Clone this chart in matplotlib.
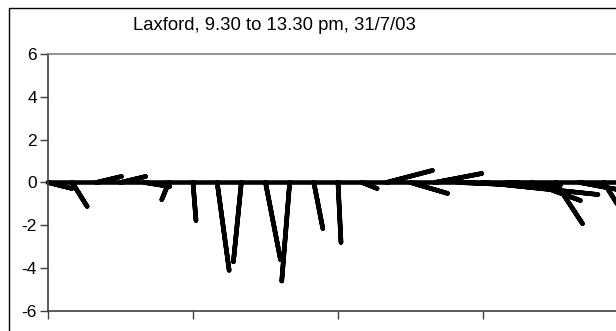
import matplotlib
matplotlib.use("Agg")
import matplotlib.pyplot as plt
from matplotlib.patches import Rectangle
import numpy as np

plt.rcParams['font.family'] = ['Liberation Sans', 'DejaVu Sans']

# readings every 10 minutes, 9.30 to 13.30
start_hour = 9.5
step_hour = 1 / 6
# east (u) and north (v) components
u = [1.12, 0.70, 1.17, 1.17, 1.17, -0.33, 0.14, 0.56, -0.37, 0.70,
     -0.37, 0.42, 0.14, 0.70, 2.15, 1.73, 2.20, 4.49, 5.37, 2.48,
     2.29, 1.26, 1.78, 0.84, 0.47]
v = [-0.28, -1.12, 0.28, 0.28, -0.19, -0.80, -1.78, -4.10, -3.70, -3.60,
     -4.60, -2.15, -2.80, -0.28, 0.56, -0.51, 0.42, -0.19, -0.56, -0.14,
     -0.84, -1.92, -0.33, -1.35, -0.30]
u_scale = 0.1476  # hours per unit of u, keeps sticks isotropic

t = start_hour + step_hour * np.arange(len(u))

# stick plot: base -> tip -> base, bases joined along zero
xs, ys = [], []
for ti, ui, vi in zip(t, u, v):
    xs += [ti, ti + ui * u_scale, ti]
    ys += [0, vi, 0]

fig = plt.figure(figsize=(6.16, 3.31), dpi=100)
# chart frame
fig.add_artist(Rectangle((8.5 / 616, -0.2), 1.2, 1.2 - 7.5 / 331,
                         transform=fig.transFigure, fill=False,
                         edgecolor='black', lw=1.0))

ax = fig.add_axes([48 / 616, 1 - 311 / 331, 580 / 616, 257 / 331])
ax.plot(xs, ys, color='black', lw=3.3, solid_capstyle='round',
        solid_joinstyle='round', clip_on=False)

ax.set_xlim(9.5, 13.5)
ax.set_ylim(-6, 6)
ax.set_yticks(np.arange(-6, 7, 2))
ax.set_yticklabels([str(k) for k in range(-6, 7, 2)])
ax.set_xticks(np.arange(9.5, 13.6, 1))
ax.set_xticklabels([])
ax.tick_params(axis='both', direction='out', length=6, width=1,
               color='#404040', labelsize=12.5, pad=2)

for side in ('left', 'bottom'):
    ax.spines[side].set_color('#404040')
    ax.spines[side].set_linewidth(1.2)
ax.spines['top'].set_color('#808080')
ax.spines['top'].set_linewidth(1.2)
ax.spines['right'].set_color('#808080')

fig.text(274 / 616, 1 - 26 / 331, 'Laxford, 9.30 to 13.30 pm, 31/7/03',
         ha='center', va='center', fontsize=13.3)

fig.savefig('out.png', dpi=100)
